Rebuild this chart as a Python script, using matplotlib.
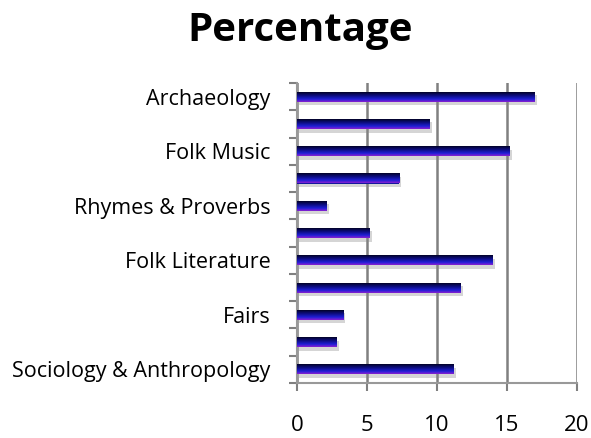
import matplotlib
matplotlib.use("Agg")
import matplotlib.pyplot as plt
import numpy as np
from matplotlib.colors import LinearSegmentedColormap
from matplotlib.patches import Rectangle

labels = ["Archaeology", "", "Folk Music", "", "Rhymes & Proverbs", "",
          "Folk Literature", "", "Fairs", "", "Sociology & Anthropology"]
values = [17.0, 9.5, 15.2, 7.3, 2.1, 5.2, 14.0, 11.7, 3.3, 2.85, 11.2]
xticks = [0, 5, 10, 15, 20]

plt.rcParams['font.family'] = ['Open Sans', 'DejaVu Sans']

fig = plt.figure(figsize=(5.91, 4.38), dpi=100)
ax = fig.add_axes([297/591, 1 - 383/438, 280/591, 300/438])

n = len(values)
ypos = np.arange(n)[::-1]
h = 0.37
# bottom (value 1) purple -> top (value 0) near-black
cmap = LinearSegmentedColormap.from_list("g", [(0, "#00000f"), (0.35, "#0a0a70"), (0.75, "#1f1fd8"), (1.0, "#8a20d0")])
grad = np.linspace(1, 0, 64).reshape(-1, 1)

for y, v in zip(ypos, values):
    sh = Rectangle((0.15, y - h/2 - 0.13), v, h, facecolor="#888888", alpha=0.35, edgecolor="none", zorder=2)
    ax.add_patch(sh)
    bars = ax.barh([y], [v], height=h, color="#1515a0", zorder=3)
    rect = bars[0]
    im = ax.imshow(grad, cmap=cmap, vmin=0, vmax=1, aspect="auto", origin="lower",
                   extent=[0, v, y - h/2, y + h/2], zorder=4, interpolation="bilinear")
    im.set_clip_path(rect)

ax.set_xlim(0, 20)
ax.set_ylim(-0.5, n - 0.5)
ax.set_xticks(xticks)
ax.set_xticklabels([str(t) for t in xticks], fontsize=16)
ax.set_yticks(ypos)
ax.set_yticklabels(labels, fontsize=15.5)
ax.set_yticks(np.arange(-0.5, n, 1.0), minor=True)
ax.tick_params(axis="y", which="major", length=0, pad=19)
ax.tick_params(axis="y", which="minor", length=6, color="#808080", width=1.5)
ax.tick_params(axis="x", length=6, color="#808080", width=1.5, pad=17)
ax.grid(axis="x", color="#808080", linewidth=1.8, zorder=1)
ax.set_axisbelow(True)
for s in ["top", "right"]:
    ax.spines[s].set_visible(False)
for s in ["left", "bottom"]:
    ax.spines[s].set_color("#999999")
    ax.spines[s].set_linewidth(1.5)

fig.text(300/591, 1 - 31/438, "Percentage", ha="center", va="center", fontsize=29, fontweight="bold")

fig.savefig("out.png", dpi=100)
